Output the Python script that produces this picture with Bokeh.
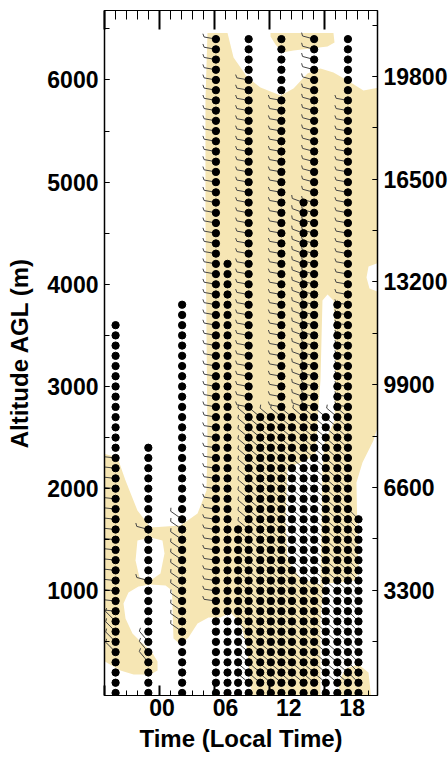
import numpy as np
from bokeh.plotting import figure
from bokeh.models import Range1d, LinearAxis, FixedTicker
from bokeh.embed import file_html
from bokeh.resources import INLINE

# ---------------- data ----------------
# profile columns: time (local hours) and top altitude (m); levels every 100 m from 0
COL_TIME = [-4.4, -1.3, 1.9, 5.1, 6.2, 7.2, 8.2, 9.3, 10.3, 11.3, 12.3, 13.4, 14.4, 15.5, 16.6, 17.6, 18.6]
COL_TOP = [3600, 2400, 3800, 6400, 4200, 1600, 6400, 2700, 2700, 6400, 2700, 4800, 6400, 2700, 3800, 6400, 1700]
LEVEL_STEP = 100

# wind barb layers: column time, lowest / highest level with a barb, direction (deg, from)
LAYER_TIME = [-4.4, -4.4, -1.3, -1.3, -1.3, 1.9, 5.1, 5.1, 8.2, 8.2, 9.3, 10.3, 11.3, 11.3,
              12.3, 13.4, 13.4, 14.4, 14.4, 15.5, 16.6, 17.6, 17.6, 18.6]
LAYER_LO = [400, 800, 300, 1100, 1600, 600, 900, 2700, 100, 2800, 100, 100, 100, 2800,
            100, 100, 2800, 100, 2800, 100, 100, 100, 2800, 100]
LAYER_HI = [700, 2300, 500, 1100, 1600, 1700, 2600, 6400, 2700, 6000, 2700, 2700, 2700, 5800,
            2700, 2700, 4800, 2700, 6400, 2700, 2700, 2700, 5800, 1700]
LAYER_DIR = [315, 276, 320, 285, 285, 305, 278, 280, 310, 280, 310, 310, 310, 280,
             310, 310, 290, 310, 285, 310, 310, 310, 280, 315]

# shaded region outline (hours, m)
TAN_MAIN_H = [4.30, 6.20, 6.77, 8.09, 9.32, 11.22, 12.45, 13.77, 15.00, 16.23, 17.56, 19.07, 20.6,
              20.6, 19.55, 19.36, 19.64, 20.6, 20.6, 20.02, 18.98, 18.41, 18.51, 18.60, 18.22,
              16.90, 15.29, 15.00, 15.00, 8.56, 8.09, 7.43, 6.48, 5.53, 4.40, 3.36, 2.50, 1.75,
              1.08, 0.94, 0.33, -1.09, -2.23, -3.18, -3.65, -3.46, -2.80, -1.95, -1.00, -0.43,
              -0.43, -1.09, -2.70, -3.94, -5.6, -5.6, -4.22, -3.46, -2.33, -1.09, 1.75, 3.36,
              4.21, 4.30, 4.11, 4.11]
TAN_MAIN_M = [6460, 6460, 6220, 6025, 5927, 5848, 5917, 6064, 6113, 6074, 5995, 5897, 5927,
              4214, 4174, 4067, 3959, 3920, 2667, 2471, 2256, 2060, 1492, 1179, 1101,
              1081, 1071, 709, -80, -80, 415, 690, 787, 739, 739, 680, 543, 474,
              533, 1003, 1052, 1062, 1042, 983, 876, 729, 582, 494, 406, 308,
              220, 181, 181, 220, 318, 2344, 2305, 2080, 1786, 1620, 1639, 1757,
              1982, 2471, 4654, 5799]
TAN_TOP_H = [10.27, 16.23, 16.33, 15.67, 12.45, 11.40, 10.74, 10.27]
TAN_TOP_M = [6460, 6460, 6367, 6328, 6289, 6269, 6348, 6426]
TAN_BLOB_H = [16.9, 16.71, 17.37, 18.6, 19.55, 19.83]
TAN_BLOB_M = [-80, 102, 239, 278, 200, -80]
CLEAR_HOLE_H = [-2.33, -1.09, 0.04, 0.23, -0.15, -1.09, -2.14, -2.51]
CLEAR_HOLE_M = [1492, 1522, 1492, 1365, 1169, 1101, 1130, 1297]
CLEAR_BAY_H = [15.0, 13.11, 11.88, 11.69, 11.88, 13.11, 14.53, 14.72, 15.0, 15.19, 15.67, 16.23,
               16.42, 16.33, 15.38, 15.19]
CLEAR_BAY_M = [1062, 1120, 1297, 1688, 2207, 2256, 2324, 2667, 3059, 3842, 3900, 3842,
               3352, 2667, 2452, 2207]

# axis ticks
X_LABEL_HOURS = [0, 6, 12, 18]
X_LABELS = ["00", "06", "12", "18"]
Y_TICKS = [1000, 2000, 3000, 4000, 5000, 6000]
FT_TICKS = [3300, 6600, 9900, 13200, 16500, 19800]
M_TO_FT = 3.28084
FRAME_TICKS = [-5, 0, 5, 10, 15]
FRAME_MINOR = [-4, -3, -2, -1, 1, 2, 3, 4, 6, 7, 8, 9, 11, 12, 13, 14, 16, 17, 18, 19]

# ---------------- figure ----------------
X0, X1 = -5.45, 20.4
Y0, Y1 = -25, 6680
FW, FH = 273, 685
KX = FW / (X1 - X0)
KY = FH / (Y1 - Y0)

p = figure(frame_width=FW, frame_height=FH,
           min_border_left=104, min_border_right=71, min_border_top=10, min_border_bottom=62,
           x_range=Range1d(X0, X1), y_range=Range1d(Y0, Y1),
           x_axis_location=None, y_axis_location=None,
           output_backend="svg", toolbar_location=None)
p.xgrid.grid_line_color = None
p.ygrid.grid_line_color = None
p.outline_line_color = "black"
p.background_fill_color = "white"
p.border_fill_color = "white"

p.extra_x_ranges = {"tk": Range1d(-5, 19.82)}
p.extra_y_ranges = {"ft": Range1d(Y0 * M_TO_FT, Y1 * M_TO_FT)}

TAN = "#F6E6B4"
p.patch(TAN_MAIN_H, TAN_MAIN_M, fill_color=TAN, line_color=None)
p.patch(TAN_TOP_H, TAN_TOP_M, fill_color=TAN, line_color=None)
p.patch(TAN_BLOB_H, TAN_BLOB_M, fill_color=TAN, line_color=None)
p.patch(CLEAR_HOLE_H, CLEAR_HOLE_M, fill_color="white", line_color=None)
p.patch(CLEAR_BAY_H, CLEAR_BAY_M, fill_color="white", line_color=None)

# wind barbs (staff toward direction the wind blows from, one feather at the end)
FEATHER = 3.5
bx0, by0, bx1, by1 = [], [], [], []
c60, s60 = np.cos(np.deg2rad(60)), np.sin(np.deg2rad(60))
for t, lo, hi, d in zip(LAYER_TIME, LAYER_LO, LAYER_HI, LAYER_DIR):
    staff = 14.0 if d >= 300 else 12.0
    th = np.deg2rad(d)
    ux, uy = np.sin(th), np.cos(th)
    fx, fy = ux * c60 + uy * s60, -ux * s60 + uy * c60
    for alt in range(lo, hi + 1, LEVEL_STEP):
        ex = t + staff * ux / KX
        ey = alt + staff * uy / KY
        bx0 += [t, ex]
        by0 += [alt, ey]
        bx1 += [ex, ex + FEATHER * fx / KX]
        by1 += [ey, ey + FEATHER * fy / KY]
p.segment(bx0, by0, bx1, by1, line_color="#444444", line_width=1)

# dots
dx, dy = [], []
for t, top in zip(COL_TIME, COL_TOP):
    for alt in range(0, top + 1, LEVEL_STEP):
        dx.append(t)
        dy.append(alt)
p.scatter(dx, dy, size=7.3, fill_color="black", line_color="black")

FONT = "Liberation Sans"


def style(ax):
    ax.major_label_text_font = FONT
    ax.major_label_text_font_style = "bold"
    ax.major_label_text_font_size = "23px"
    ax.major_label_text_color = "black"
    ax.axis_label_text_font = FONT
    ax.axis_label_text_font_style = "bold"
    ax.axis_label_text_font_size = "24px"
    ax.axis_label_text_color = "black"
    ax.axis_line_color = "black"
    ax.major_tick_line_color = "black"
    ax.minor_tick_line_color = "black"


def tick_only(ax):
    ax.major_label_overrides = {t: "" for t in FRAME_TICKS}
    ax.major_label_text_font_size = "1px"
    ax.major_label_standoff = 0


left = LinearAxis(ticker=FixedTicker(ticks=Y_TICKS, minor_ticks=list(range(500, 6600, 500))),
                  axis_label="Altitude AGL (m)")
style(left)
left.major_tick_in = 5
left.major_tick_out = 0
left.minor_tick_in = 5
left.minor_tick_out = 0
left.major_label_standoff = 6
left.axis_label_standoff = 11
left.axis_line_width = 1.5
p.add_layout(left, "left")

right = LinearAxis(y_range_name="ft",
                   ticker=FixedTicker(ticks=FT_TICKS, minor_ticks=list(range(1650, 21500, 1650))))
style(right)
right.major_tick_in = 5
right.major_tick_out = 0
right.minor_tick_in = 5
right.minor_tick_out = 0
right.major_label_standoff = 6
right.axis_line_width = 1.5
p.add_layout(right, "right")

top = LinearAxis(x_range_name="tk", ticker=FixedTicker(ticks=FRAME_TICKS, minor_ticks=FRAME_MINOR))
style(top)
tick_only(top)
top.major_tick_in = 19
top.major_tick_out = 0
top.minor_tick_in = 9
top.minor_tick_out = 0
top.major_tick_line_width = 2
p.add_layout(top, "above")

btick = LinearAxis(x_range_name="tk", ticker=FixedTicker(ticks=FRAME_TICKS, minor_ticks=FRAME_MINOR))
style(btick)
tick_only(btick)
btick.major_tick_in = 10
btick.major_tick_out = 0
btick.minor_tick_in = 5
btick.minor_tick_out = 0
btick.major_tick_line_width = 2
p.add_layout(btick, "below")

blab = LinearAxis(ticker=FixedTicker(ticks=X_LABEL_HOURS, minor_ticks=[]),
                  major_label_overrides={h: s for h, s in zip(X_LABEL_HOURS, X_LABELS)},
                  axis_label="Time (Local Time)")
style(blab)
blab.axis_line_color = None
blab.major_tick_line_color = None
blab.major_tick_in = 0
blab.major_tick_out = 0
blab.major_label_standoff = 3
blab.axis_label_standoff = 6
p.add_layout(blab, "below")

open("out.html", "w").write(file_html(p, INLINE))
